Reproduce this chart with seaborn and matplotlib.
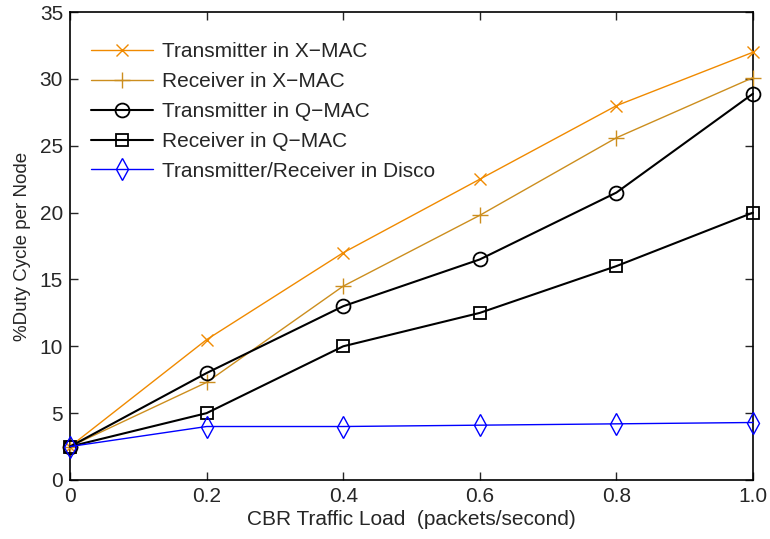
import matplotlib
matplotlib.use("Agg")
import matplotlib.pyplot as plt
import seaborn as sns
import pandas as pd

load = [0, 0.2, 0.4, 0.6, 0.8, 1.0]
tx_xmac = [2.5, 10.5, 17.0, 22.5, 28.0, 32.0]
rx_xmac = [2.5, 7.3, 14.5, 19.8, 25.6, 30.1]
tx_qmac = [2.5, 8.0, 13.0, 16.5, 21.5, 28.9]
rx_qmac = [2.5, 5.0, 10.0, 12.5, 16.0, 20.0]
disco = [2.5, 4.0, 4.0, 4.1, 4.2, 4.3]

series_names = [
    "Transmitter in X\u2212MAC",
    "Receiver in X\u2212MAC",
    "Transmitter in Q\u2212MAC",
    "Receiver in Q\u2212MAC",
    "Transmitter/Receiver in Disco",
]
x_ticks = [0, 0.2, 0.4, 0.6, 0.8, 1.0]
x_tick_labels = ["0", "0.2", "0.4", "0.6", "0.8", "1.0"]
y_ticks = [0, 5, 10, 15, 20, 25, 30, 35]

sns.set_theme(style="ticks")
plt.rcParams["font.family"] = ["Liberation Sans", "DejaVu Sans"]
plt.rcParams["xtick.direction"] = "in"
plt.rcParams["ytick.direction"] = "in"

fig = plt.figure(figsize=(7.7, 5.39), dpi=100)
ax = fig.add_axes([0.0909, 0.1095, 0.887, 0.868])

styles = [
    dict(color="#F08A00", marker="x", ms=8, lw=1.0, mew=1.0, mfc="none"),
    dict(color="#CC8E1E", marker="+", ms=11, lw=1.0, mew=1.0, mfc="none"),
    dict(color="black", marker="o", ms=10, lw=1.5, mew=1.3, mfc="none"),
    dict(color="black", marker="s", ms=8, lw=1.5, mew=1.3, mfc="none"),
    dict(color="#0000FF", marker="d", ms=11, lw=1.0, mew=1.0, mfc="none"),
]

for name, vals, st in zip(series_names, [tx_xmac, rx_xmac, tx_qmac, rx_qmac, disco], styles):
    df = pd.DataFrame({"load": load, "duty": vals})
    sns.lineplot(data=df, x="load", y="duty", ax=ax, label=name,
                 color=st["color"], marker=st["marker"], markersize=st["ms"],
                 linewidth=st["lw"], markeredgewidth=st["mew"],
                 markerfacecolor=st["mfc"], markeredgecolor=st["color"],
                 clip_on=False, zorder=3)

ax.set_xlim(0, 1.0)
ax.set_ylim(0, 35)
ax.set_xticks(x_ticks)
ax.set_xticklabels(x_tick_labels)
ax.set_yticks(y_ticks)
ax.tick_params(axis="both", labelsize=15, length=6, width=1, top=True, right=True, pad=5)
for sp in ax.spines.values():
    sp.set_visible(True)
    sp.set_linewidth(1.2)
    sp.set_color("black")

ax.set_xlabel("CBR Traffic Load  (packets/second)", fontsize=15, labelpad=3)
ax.set_ylabel("%Duty Cycle per Node", fontsize=13.5, labelpad=6)

leg = ax.legend(loc="upper left", bbox_to_anchor=(0.0, 0.98), frameon=False,
                fontsize=15, handlelength=3.0, handletextpad=0.4,
                labelspacing=0.52, borderaxespad=0.6)

fig.savefig("out.png", dpi=100)
